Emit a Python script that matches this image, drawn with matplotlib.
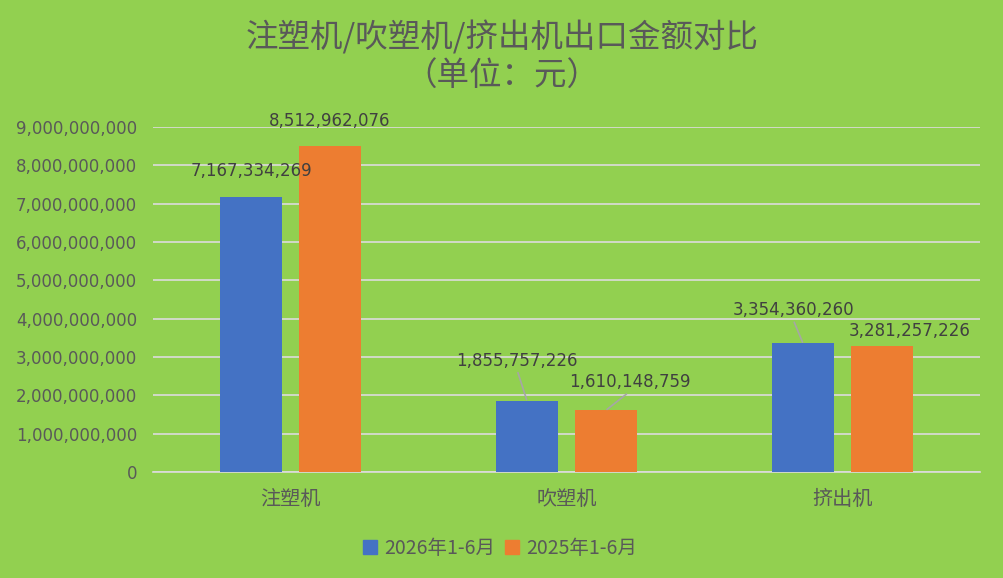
import matplotlib
matplotlib.use("Agg")
import matplotlib.pyplot as plt
import numpy as np
from matplotlib.patches import Patch

categories = ["注塑机", "吹塑机", "挤出机"]
series_names = ["2026年1-6月", "2025年1-6月"]
values_2026 = [7167334269, 1855757226, 3354360260]
values_2025 = [8512962076, 1610148759, 3281257226]
yticks = [0, 1e9, 2e9, 3e9, 4e9, 5e9, 6e9, 7e9, 8e9, 9e9]

# label offsets (pixels) relative to bar top-centre, and whether a leader line is drawn
off_2026 = [(0, -26), (-10, -40), (-10, -33)]
off_2025 = [(0, -25), (24, -28), (28, -15)]
lead_2026 = [False, True, True]
lead_2025 = [False, True, False]

BG = "#92D050"
BLUE = "#4472C4"
ORANGE = "#ED7D31"
TICK = "#595959"
LABEL = "#404040"
GRID = "#DCDCDC"
CJK = ["Noto Sans CJK SC", "DejaVu Sans"]
NUM = ["DejaVu Sans", "Noto Sans CJK SC"]

fig = plt.figure(figsize=(10.04, 5.78), dpi=100, facecolor=BG)
ax = fig.add_axes([152.5 / 1004, 1 - 472 / 578, (980.5 - 152.5) / 1004, (472 - 127) / 578])
ax.set_facecolor(BG)

x = np.arange(len(categories))
w = 0.225
d = 0.143
b1 = ax.bar(x - d, values_2026, w, color=BLUE, zorder=3)
b2 = ax.bar(x + d, values_2025, w, color=ORANGE, zorder=3)

ax.set_xlim(-0.5, len(categories) - 0.5)
ax.set_ylim(0, 9e9)
ax.set_yticks(yticks)
ax.set_yticklabels([f"{int(v):,}" for v in yticks], family=NUM, fontsize=12, color=TICK)
ax.set_xticks(x)
ax.set_xticklabels(categories, family=CJK, fontsize=14.5, color=TICK)
ax.tick_params(axis="y", length=0, pad=11)
ax.tick_params(axis="x", length=0, pad=12)
ax.grid(axis="y", color=GRID, linewidth=1.2, zorder=0)
ax.axhline(0, color=GRID, linewidth=1.2, zorder=2, clip_on=False)
for s in ax.spines.values():
    s.set_visible(False)

def label(xs, vals, offs, leads):
    for xi, v, (dx, dy), ld in zip(xs, vals, offs, leads):
        kw = dict(xy=(xi, v), xytext=(dx, -dy), textcoords="offset pixels",
                  ha="center", va="center", family=NUM, fontsize=12, color=LABEL, zorder=5)
        if ld:
            kw["arrowprops"] = dict(arrowstyle="-", color="#A6A6A6", lw=1.2,
                                    shrinkA=0, shrinkB=1, relpos=(0.5, 0))
        ax.annotate(f"{v:,}", **kw)

label(x - d, values_2026, off_2026, lead_2026)
label(x + d, values_2025, off_2025, lead_2025)

fig.text(0.5, 1 - 37 / 578, "注塑机/吹塑机/挤出机出口金额对比", ha="center", va="center",
         family=CJK, fontsize=23.4, color=TICK, fontweight="light")
fig.text(0.5, 1 - 76 / 578, "（单位：元）", ha="center", va="center",
         family=CJK, fontsize=23.4, color=TICK, fontweight="light")

handles = [Patch(color=BLUE), Patch(color=ORANGE)]
fig.legend(handles, series_names, loc="center", bbox_to_anchor=(500 / 1004, 1 - 548 / 578),
           ncol=2, frameon=False, prop={"family": CJK, "size": 14},
           handlelength=0.72, handleheight=0.72, handletextpad=0.36, columnspacing=0.5,
           labelcolor=TICK)

fig.savefig("out.png", dpi=100, facecolor=BG)
